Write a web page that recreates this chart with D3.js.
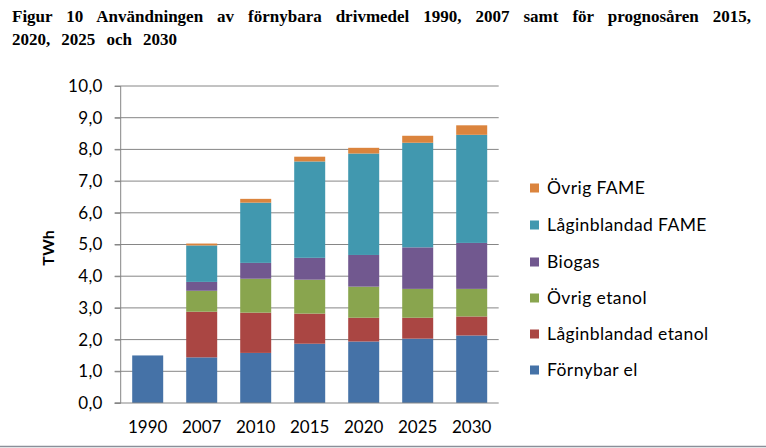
<!DOCTYPE html>
<html><head><meta charset="utf-8">
<script src="https://cdn.jsdelivr.net/npm/d3@7"></script>
<style>body{margin:0;background:#fff}svg{display:block}</style>
</head><body>
<svg id="c" width="766" height="448"></svg>
<script>
const categories = ["1990","2007","2010","2015","2020","2025","2030"];
const seriesNames = ["Förnybar el","Låginblandad etanol","Övrig etanol","Biogas","Låginblandad FAME","Övrig FAME"];
const fornybarEl = [1.50,1.44,1.58,1.87,1.94,2.03,2.13];
const laginblandadEtanol = [0,1.44,1.27,0.95,0.75,0.66,0.60];
const ovrigEtanol = [0,0.66,1.07,1.07,0.98,0.91,0.87];
const biogas = [0,0.28,0.50,0.69,1.00,1.31,1.45];
const laginblandadFAME = [0,1.15,1.90,3.04,3.20,3.30,3.41];
const ovrigFAME = [0,0.06,0.12,0.15,0.18,0.22,0.30];
const colors = ["#4572A7","#AA4643","#89A54E","#71588F","#4198AF","#DB843D"];
const yTicks = [0,1,2,3,4,5,6,7,8,9,10];
const titleLines = ["Figur 10 Användningen av förnybara drivmedel 1990, 2007 samt för prognosåren 2015,","2020, 2025 och 2030"];
const yLabel = "TWh";

const values = [fornybarEl,laginblandadEtanol,ovrigEtanol,biogas,laginblandadFAME,ovrigFAME];
const rows = categories.map((c,i)=>{const r={cat:c};seriesNames.forEach((s,j)=>r[s]=values[j][i]);return r;});
const stacked = d3.stack().keys(seriesNames)(rows);

const svg = d3.select("#c");
const pL = 120.7, pR = 498.7, pT = 86, pB = 403;
const x = d3.scaleBand().domain(categories).range([pL,pR]).paddingInner(0.426).paddingOuter(0.213);
const y = d3.scaleLinear().domain([0,10]).range([pB,pT]);
const sansFont = "Lato,'Open Sans',sans-serif";

// title (justified serif lines)
const tg = svg.append("g").attr("font-family","'Liberation Serif','Times New Roman',serif")
  .attr("font-weight","bold").attr("font-size",17).attr("fill","#000");
const titleWidths = [751-12, 177-12];
const titleY = [22, 44.5];
titleLines.forEach((line,i)=>{
  const t = tg.append("text").attr("x",12).attr("y",titleY[i]).text(line);
  const nat = t.node().getComputedTextLength();
  const gaps = line.split(" ").length-1;
  t.attr("word-spacing",Math.max(0,(titleWidths[i]-nat)/gaps));
});

// gridlines
svg.append("g").selectAll("line").data(yTicks.slice(1)).join("line")
  .attr("x1",pL-6).attr("x2",pR).attr("y1",d=>y(d)).attr("y2",d=>y(d))
  .attr("stroke","#868686").attr("stroke-width",1);

// bars
svg.append("g").selectAll("g").data(stacked).join("g").attr("fill",(d,i)=>colors[i])
  .selectAll("rect").data(d=>d.filter(p=>p[1]-p[0]>0)).join("rect")
  .attr("x",d=>x(d.data.cat)).attr("width",x.bandwidth())
  .attr("y",d=>y(d[1])).attr("height",d=>y(d[0])-y(d[1]));

// y axis
const yAxis = d3.axisLeft(y).tickValues(yTicks).tickSize(6).tickPadding(12)
  .tickFormat(d=>d3.format(".1f")(d).replace(".",","));
const ya = svg.append("g").attr("transform",`translate(${pL},0)`).call(yAxis);
ya.select(".domain").attr("stroke","#868686").attr("d",`M-6,${pB}H0V${pT}`);
ya.selectAll(".tick line").attr("stroke","#868686");
ya.selectAll("text").attr("font-family",sansFont).attr("font-size",17).attr("letter-spacing",0.3).attr("fill","#000");

// x axis
const xAxis = d3.axisBottom(x).tickSize(0).tickPadding(18);
const xa = svg.append("g").attr("transform",`translate(0,${pB})`).call(xAxis);
xa.select(".domain").attr("stroke","#868686").attr("d",`M${pL-6},0H${pR}`);
xa.selectAll("text").attr("font-family",sansFont).attr("font-size",17).attr("fill","#000");

// y label
svg.append("text").attr("transform","translate(54,248) rotate(-90)").attr("text-anchor","middle")
  .attr("font-family",sansFont).attr("font-weight","bold").attr("font-size",16).text(yLabel);

// legend
const legY = [370,334,298,262,225,188];
const lg = svg.append("g").selectAll("g").data(seriesNames).join("g")
  .attr("transform",(d,i)=>`translate(530,${legY[i]})`);
lg.append("rect").attr("x",0).attr("y",-4.5).attr("width",9).attr("height",9).attr("fill",(d,i)=>colors[i]);
lg.append("text").attr("x",17).attr("y",0).attr("dy","0.36em").attr("font-family",sansFont)
  .attr("font-size",17.5).attr("letter-spacing",0.4).text(d=>d);

// bottom border
svg.append("line").attr("x1",0).attr("x2",766).attr("y1",446.5).attr("y2",446.5).attr("stroke","#8a8f99").attr("stroke-width",1.5);
</script>
</body></html>
